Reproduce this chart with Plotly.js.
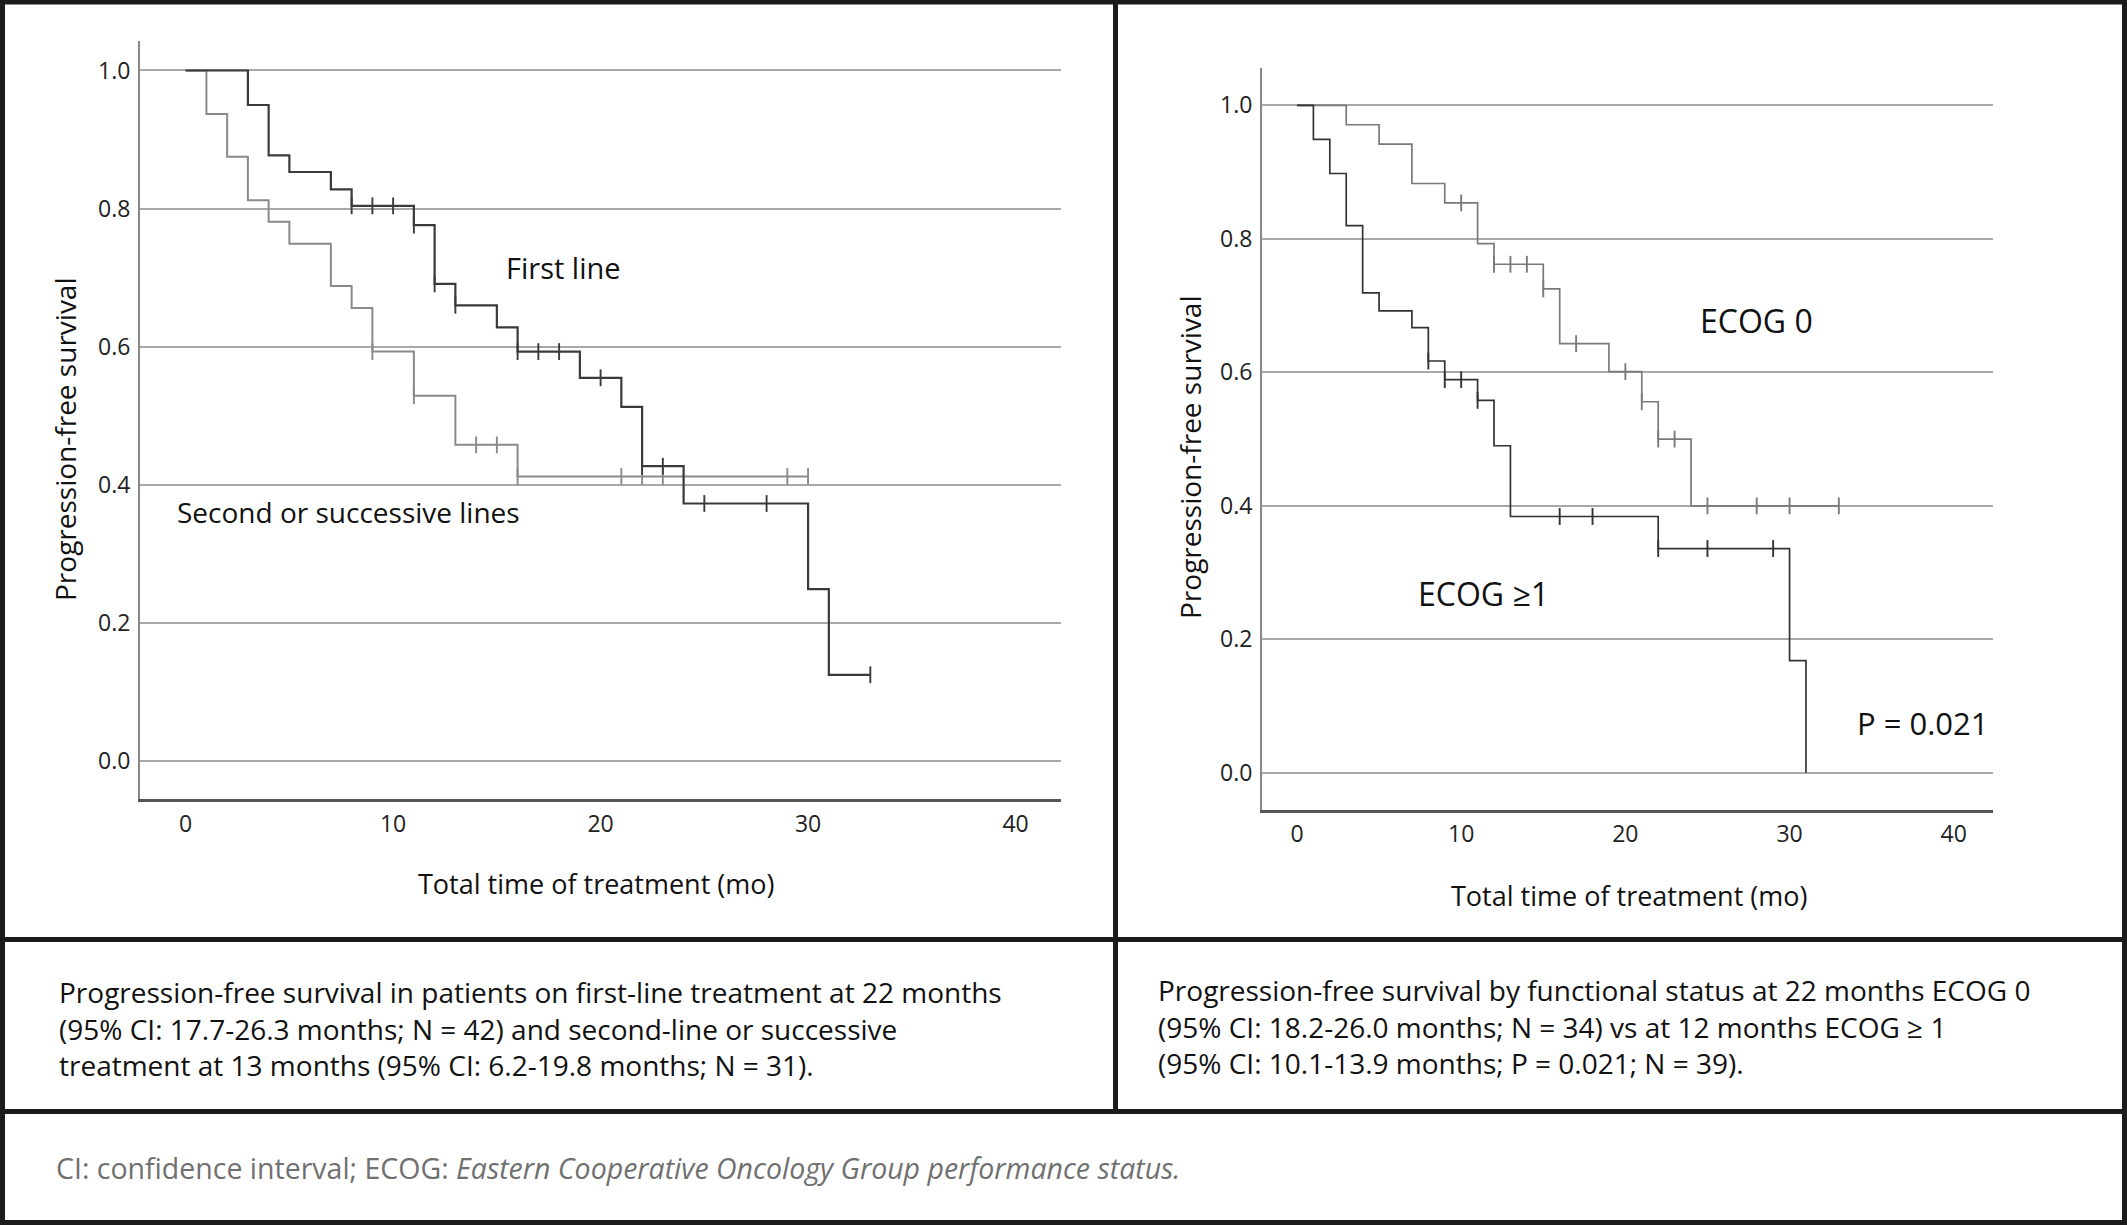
<!DOCTYPE html>
<html>
<head>
<meta charset="utf-8">
<script src="https://cdn.plot.ly/plotly-3.0.1.min.js"></script>
<style>html,body{margin:0;padding:0;background:#fff;}#chart{width:2127px;height:1225px;}</style>
</head>
<body>
<div id="chart"></div>
<script>
// ---------- DATA ----------
// Left panel: line of treatment
const firstTimes  = [0, 3, 4, 5, 7, 8, 11, 12, 13, 15, 16, 19, 21, 22, 24, 30, 31];
const firstSurv   = [1, 0.950, 0.877, 0.853, 0.828, 0.804, 0.776, 0.691, 0.660, 0.628, 0.593, 0.555, 0.513, 0.427, 0.373, 0.249, 0.125];
const firstEnd    = 33;
const firstCensor = [8, 9, 10, 11, 12, 13, 16, 17, 18, 20, 22, 23, 25, 28, 33];

const secondTimes  = [0, 1, 2, 3, 4, 5, 7, 8, 9, 11, 13, 16];
const secondSurv   = [1, 0.937, 0.875, 0.812, 0.781, 0.749, 0.688, 0.656, 0.593, 0.529, 0.458, 0.412];
const secondEnd    = 30;
const secondCensor = [9, 11, 14, 15, 16, 21, 22, 23, 29, 30];

// Right panel: ECOG status
const ecog0Times  = [0, 3, 5, 7, 9, 11, 12, 15, 16, 19, 21, 22, 24];
const ecog0Surv   = [1, 0.971, 0.942, 0.883, 0.854, 0.793, 0.762, 0.725, 0.643, 0.601, 0.556, 0.500, 0.400];
const ecog0End    = 33;
const ecog0Censor = [10, 12, 13, 14, 15, 17, 20, 21, 22, 23, 25, 28, 30, 33];

const ecog1Times  = [0, 1, 2, 3, 4, 5, 7, 8, 9, 11, 12, 13, 22, 30, 31];
const ecog1Surv   = [1, 0.949, 0.898, 0.820, 0.719, 0.692, 0.667, 0.617, 0.589, 0.558, 0.490, 0.384, 0.336, 0.168, 0];
const ecog1End    = 31;
const ecog1Censor = [8, 9, 10, 11, 16, 18, 22, 25, 29];

const xTicks = [0, 10, 20, 30, 40];
const yTicks = [0, 0.2, 0.4, 0.6, 0.8, 1.0];
const yTickText = ['0.0', '0.2', '0.4', '0.6', '0.8', '1.0'];

// ---------- HELPERS ----------
const W = 2127, H = 1225;
const px = v => v / W;
const py = v => 1 - v / H;
const FONT = '"Open Sans", Lato, sans-serif';

function stepValue(times, surv, t) {
  let s = surv[0];
  for (let i = 0; i < times.length; i++) { if (times[i] <= t) s = surv[i]; }
  return s;
}
function curve(times, surv, end, color, width, xa, ya) {
  return {
    type: 'scatter', mode: 'lines', xaxis: xa, yaxis: ya,
    x: times.concat([end]), y: surv.concat([surv[surv.length - 1]]),
    line: {shape: 'hv', color: color, width: width}, hoverinfo: 'skip'
  };
}
function censors(times, surv, cens, color, xa, ya) {
  return {
    type: 'scatter', mode: 'markers', xaxis: xa, yaxis: ya,
    x: cens, y: cens.map(t => stepValue(times, surv, t)),
    marker: {symbol: 'line-ns', size: 12, color: color, line: {width: 1.9, color: color}},
    hoverinfo: 'skip'
  };
}

const DARK = '#3a3a3a', LIGHT = '#8a8a8a';

const traces = [
  curve(secondTimes, secondSurv, secondEnd, LIGHT, 2, 'x', 'y'),
  censors(secondTimes, secondSurv, secondCensor, LIGHT, 'x', 'y'),
  curve(firstTimes, firstSurv, firstEnd, DARK, 2.2, 'x', 'y'),
  censors(firstTimes, firstSurv, firstCensor, DARK, 'x', 'y'),
  curve(ecog0Times, ecog0Surv, ecog0End, '#7a7a7a', 1.7, 'x2', 'y2'),
  censors(ecog0Times, ecog0Surv, ecog0Censor, '#7a7a7a', 'x2', 'y2'),
  curve(ecog1Times, ecog1Surv, ecog1End, '#333333', 1.7, 'x2', 'y2'),
  censors(ecog1Times, ecog1Surv, ecog1Censor, '#333333', 'x2', 'y2')
];

function xAxis(domain, range, anchor) {
  return {
    domain: domain, range: range, anchor: anchor,
    tickvals: xTicks, ticktext: xTicks.map(String),
    showgrid: false, zeroline: false,
    showline: true, linecolor: '#555', linewidth: 3,
    ticks: 'outside', ticklen: 2, tickcolor: 'rgba(0,0,0,0)',
    tickfont: {family: FONT, size: 23, color: '#222'}, fixedrange: true
  };
}
function yAxis(domain, range, anchor) {
  return {
    domain: domain, range: range, anchor: anchor,
    tickvals: yTicks, ticktext: yTickText,
    showgrid: true, gridcolor: '#a8a8a8', gridwidth: 2,
    zeroline: false, showline: true, linecolor: '#888', linewidth: 2,
    ticks: 'outside', ticklen: 3, tickcolor: 'rgba(0,0,0,0)',
    tickfont: {family: FONT, size: 23, color: '#222'}, fixedrange: true
  };
}

function rect(x0, y0, x1, y1) {
  return {type: 'rect', xref: 'paper', yref: 'paper', x0: px(x0), x1: px(x1), y0: py(y1), y1: py(y0),
          fillcolor: '#1b1b1b', line: {width: 0}, layer: 'above'};
}
function ann(text, x, y, size, opts) {
  return Object.assign({xref: 'paper', yref: 'paper', x: px(x), y: py(y), text: text, showarrow: false,
    xanchor: 'center', yanchor: 'middle', font: {family: FONT, size: size, color: '#111'}}, opts || {});
}

const CAP = 28;
const layout = {
  width: W, height: H, autosize: false,
  margin: {l: 0, r: 0, t: 0, b: 0, pad: 0},
  paper_bgcolor: '#fff', plot_bgcolor: '#fff',
  showlegend: false,
  xaxis:  xAxis([px(140), px(1061)], [-2.2, 42.19], 'y'),
  yaxis:  yAxis([py(799.3), py(41)], [-0.0553, 1.0427], 'x'),
  xaxis2: xAxis([px(1262), px(1993)], [-2.13, 42.39], 'y2'),
  yaxis2: yAxis([py(809.7), py(67.9)], [-0.0553, 1.0562], 'x2'),
  shapes: [
    rect(0, 0, 2127, 4.5),       // top
    rect(0, 1220, 2127, 1225),   // bottom
    rect(0, 0, 5, 1225),         // left
    rect(2122, 0, 2127, 1225),   // right
    rect(1113, 0, 1118, 1112),   // vertical divider
    rect(0, 937, 2127, 942),     // under charts
    rect(0, 1109, 2127, 1114)    // under captions
  ],
  annotations: [
    ann('Progression-free survival', 65, 439, 28, {textangle: -90}),
    ann('Total time of treatment (mo)', 596, 883, 27),
    ann('First line', 563, 268, 29),
    ann('Second or successive lines', 348, 512, 28),
    ann('Progression-free survival', 1190, 457, 28, {textangle: -90}),
    ann('Total time of treatment (mo)', 1629, 895, 27),
    ann('ECOG 0', 1756, 320, 32),
    ann('ECOG ≥1', 1483, 593, 32),
    ann('P = 0.021', 1991, 723, 31, {xanchor: 'right'}),
    ann('Progression-free survival in patients on first-line treatment at 22 months', 57, 992, CAP, {xanchor: 'left'}),
    ann('(95% CI: 17.7-26.3 months; N = 42) and second-line or successive', 57, 1029, CAP, {xanchor: 'left'}),
    ann('treatment at 13 months (95% CI: 6.2-19.8 months; N = 31).', 57, 1065, CAP, {xanchor: 'left'}),
    ann('Progression-free survival by functional status at 22 months ECOG 0', 1156, 990, CAP, {xanchor: 'left'}),
    ann('(95% CI: 18.2-26.0 months; N = 34) vs at 12 months ECOG ≥ 1', 1156, 1027, CAP, {xanchor: 'left'}),
    ann('(95% CI: 10.1-13.9 months; P = 0.021; N = 39).', 1156, 1063, CAP, {xanchor: 'left'}),
    ann('CI: confidence interval; ECOG: <i>Eastern Cooperative Oncology Group performance status.</i>', 54, 1168, 28.5,
        {xanchor: 'left', font: {family: FONT, size: 28.5, color: '#707070'}})
  ]
};

Plotly.newPlot('chart', traces, layout, {staticPlot: true, displayModeBar: false});
</script>
</body>
</html>
